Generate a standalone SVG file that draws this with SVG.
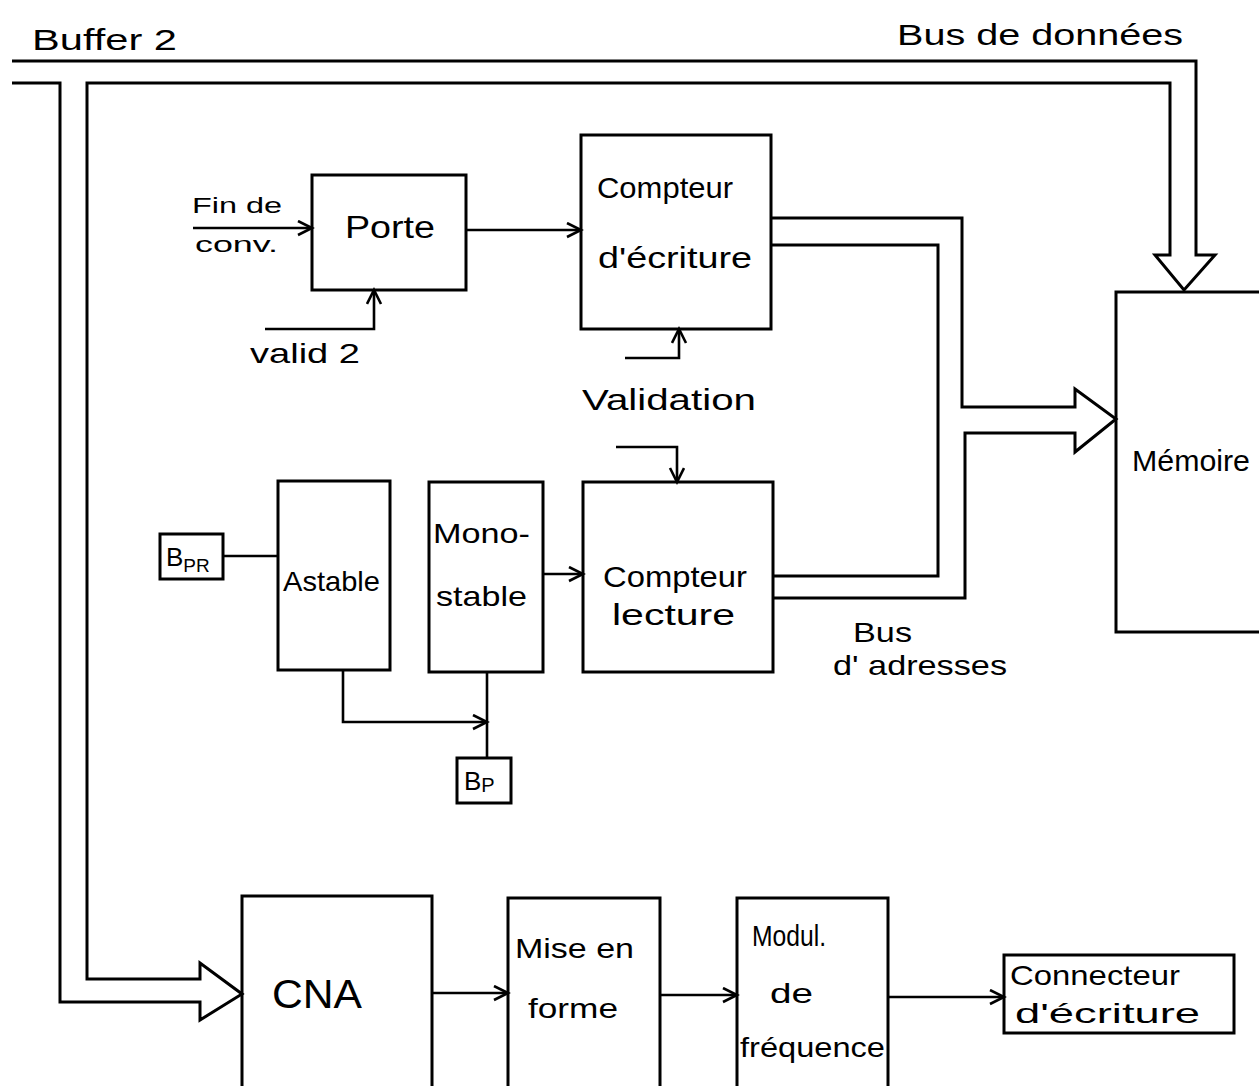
<svg xmlns="http://www.w3.org/2000/svg" width="1259" height="1086" viewBox="0 0 1259 1086">
<style>
.box{fill:none;stroke:#000;stroke-width:3}
.ln{fill:none;stroke:#000;stroke-width:2.6;stroke-linejoin:miter}
.bus{fill:none;stroke:#000;stroke-width:3;stroke-linejoin:miter}
text{font-family:"Liberation Sans","DejaVu Sans",sans-serif;fill:#000}
.t30{font-size:30px}
.t28{font-size:28px}
.t26{font-size:26px}
.t22{font-size:22px}
</style>
<defs>
<marker id="ah" markerUnits="userSpaceOnUse" markerWidth="20" markerHeight="20" refX="16" refY="8" orient="auto">
<path d="M2,1 L16,8 L2,15" fill="none" stroke="#000" stroke-width="2.6"/>
</marker>
</defs>
<rect width="1259" height="1086" fill="#fff"/>

<g id="labels">
<text class="t30" x="32" y="50" textLength="145" lengthAdjust="spacingAndGlyphs">Buffer 2</text>
<text class="t30" x="897" y="45" textLength="286" lengthAdjust="spacingAndGlyphs">Bus de  données</text>
<text class="t22" x="192" y="213" textLength="90" lengthAdjust="spacingAndGlyphs">Fin de</text>
<text class="t22" x="195" y="252" textLength="83" lengthAdjust="spacingAndGlyphs">conv.</text>
<text class="t28" x="250" y="363" textLength="110" lengthAdjust="spacingAndGlyphs">valid 2</text>
<text class="t30" x="582" y="410" textLength="174" lengthAdjust="spacingAndGlyphs">Validation</text>
<text class="t28" x="853" y="642" textLength="59" lengthAdjust="spacingAndGlyphs">Bus</text>
<text class="t28" x="833" y="675" textLength="174" lengthAdjust="spacingAndGlyphs">d' adresses</text>
</g>

<g id="connectors">
<path class="bus" d="M12,61 H1196 V255 H1215 L1184,290 L1155,255 H1170 V83 H87 V979 H200 V963 L242,994 L200,1020 V1002 H60 V83 H12"/>
<path class="bus" d="M771,218 H962 V407 H1075 V389 L1116,419 L1075,452 V433 H965 V598 H773"/>
<path class="bus" d="M771,245 H938 V576 H773"/>
<path class="ln" d="M193,228 H312" marker-end="url(#ah)"/>
<path class="ln" d="M466,230 H581" marker-end="url(#ah)"/>
<path class="ln" d="M265,329 H374 V290" marker-end="url(#ah)"/>
<path class="ln" d="M625,358 H679 V329" marker-end="url(#ah)"/>
<path class="ln" d="M616,447 H677 V482" marker-end="url(#ah)"/>
<path class="ln" d="M223,556 H278"/>
<path class="ln" d="M343,670 V722 H487" marker-end="url(#ah)"/>
<path class="ln" d="M487,672 V758"/>
<path class="ln" d="M543,574 H583" marker-end="url(#ah)"/>
<path class="ln" d="M432,993 H508" marker-end="url(#ah)"/>
<path class="ln" d="M660,995 H737" marker-end="url(#ah)"/>
<path class="ln" d="M888,997 H1004" marker-end="url(#ah)"/>
</g>

<g id="porte">
<rect class="box" x="312" y="175" width="154" height="115"/>
<text x="345" y="238" font-size="31" textLength="90" lengthAdjust="spacingAndGlyphs">Porte</text>
</g>
<g id="compteur-ecriture">
<rect class="box" x="581" y="135" width="190" height="194"/>
<text class="t30" x="597" y="198" textLength="136" lengthAdjust="spacingAndGlyphs">Compteur</text>
<text class="t30" x="598" y="268" textLength="154" lengthAdjust="spacingAndGlyphs">d'écriture</text>
</g>
<g id="compteur-lecture">
<rect class="box" x="583" y="482" width="190" height="190"/>
<text class="t30" x="603" y="587" textLength="144" lengthAdjust="spacingAndGlyphs">Compteur</text>
<text class="t30" x="612" y="625" textLength="123" lengthAdjust="spacingAndGlyphs">lecture</text>
</g>
<g id="astable">
<rect class="box" x="278" y="481" width="112" height="189"/>
<text class="t28" x="283" y="591" textLength="97" lengthAdjust="spacingAndGlyphs">Astable</text>
</g>
<g id="monostable">
<rect class="box" x="429" y="482" width="114" height="190"/>
<text class="t28" x="433" y="543" textLength="97" lengthAdjust="spacingAndGlyphs">Mono-</text>
<text class="t28" x="436" y="606" textLength="91" lengthAdjust="spacingAndGlyphs">stable</text>
</g>
<g id="bpr">
<rect class="box" x="160" y="534" width="63" height="45"/>
<text class="t26" x="166" y="566">B<tspan font-size="19" dy="6">PR</tspan></text>
</g>
<g id="bp">
<rect class="box" x="457" y="758" width="54" height="45"/>
<text class="t26" x="464" y="790">B<tspan font-size="20" dy="2">P</tspan></text>
</g>
<g id="memoire">
<rect class="box" x="1116" y="292" width="160" height="340"/>
<text class="t30" x="1132" y="471" textLength="118" lengthAdjust="spacingAndGlyphs">Mémoire</text>
</g>
<g id="cna">
<rect class="box" x="242" y="896" width="190" height="220"/>
<text x="272" y="1008" font-size="40" textLength="90" lengthAdjust="spacingAndGlyphs">CNA</text>
</g>
<g id="mise-en-forme">
<rect class="box" x="508" y="898" width="152" height="220"/>
<text class="t28" x="515" y="958" textLength="119" lengthAdjust="spacingAndGlyphs">Mise en</text>
<text class="t28" x="528" y="1018" textLength="90" lengthAdjust="spacingAndGlyphs">forme</text>
</g>
<g id="modul">
<rect class="box" x="737" y="898" width="151" height="220"/>
<text class="t30" x="752" y="946" textLength="74" lengthAdjust="spacingAndGlyphs">Modul.</text>
<text class="t28" x="770" y="1003" textLength="43" lengthAdjust="spacingAndGlyphs">de</text>
<text class="t28" x="740" y="1057" textLength="145" lengthAdjust="spacingAndGlyphs">fréquence</text>
</g>
<g id="connecteur">
<rect class="box" x="1004" y="955" width="230" height="78"/>
<text class="t28" x="1010" y="985" textLength="170" lengthAdjust="spacingAndGlyphs">Connecteur</text>
<text class="t28" x="1015" y="1023" textLength="185" lengthAdjust="spacingAndGlyphs">d'écriture</text>
</g>
</svg>
